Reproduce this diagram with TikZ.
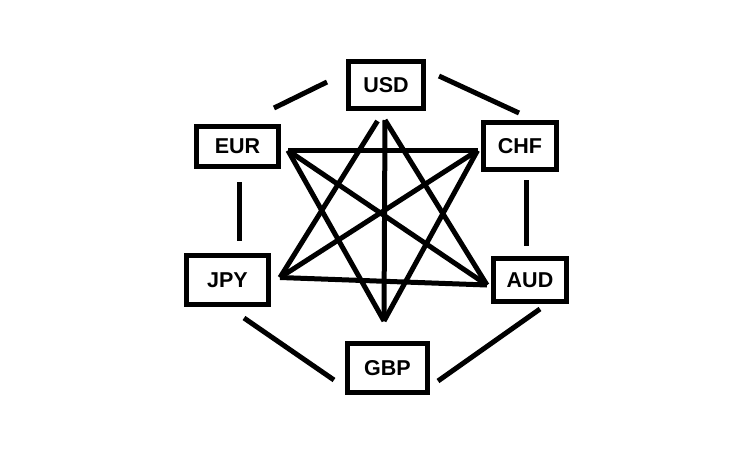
\documentclass[tikz,border=0pt]{standalone}
\usepackage{fontspec}
\setmainfont{Liberation Sans}
\begin{document}
\begin{tikzpicture}[x=1pt,y=-1pt,
  cur/.style={draw=black,line width=5pt,inner sep=0pt,font=\fontsize{21.5}{24}\selectfont\bfseries,text=black},
  edge/.style={draw=black,line width=5pt}]
\useasboundingbox[fill=white] (0,0) rectangle (753,472);
% boxes
\node[cur,minimum width=75pt,minimum height=47pt] (usd) at (386,85) {USD};
\node[cur,minimum width=82pt,minimum height=40pt] (eur) at (237.5,146.5) {EUR};
\node[cur,minimum width=73pt,minimum height=47pt] (chf) at (520,146) {CHF};
\node[cur,minimum width=82pt,minimum height=49pt] (jpy) at (227.5,280) {JPY};
\node[cur,minimum width=73pt,minimum height=43pt] (aud) at (530,280) {AUD};
\node[cur,minimum width=80pt,minimum height=49pt] (gbp) at (387.5,368) {GBP};
% hexagon connector ends
\coordinate (usd-w) at (327,82);
\coordinate (eur-n) at (274,108);
\coordinate (usd-e) at (439,76);
\coordinate (chf-n) at (519,113);
\coordinate (eur-s) at (239.5,182);
\coordinate (jpy-n) at (239.5,241);
\coordinate (chf-s) at (526.5,180);
\coordinate (aud-n) at (526.5,246);
\coordinate (jpy-s) at (244,318);
\coordinate (gbp-w) at (334,380);
\coordinate (aud-s) at (540,309);
\coordinate (gbp-e) at (438,381);
% star points
\coordinate (usd-a) at (377.5,121);
\coordinate (usd-b) at (385,120);
\coordinate (eur-p) at (288,150.5);
\coordinate (chf-p) at (477.5,150.5);
\coordinate (jpy-p) at (280,277.5);
\coordinate (aud-p) at (487,285);
\coordinate (gbp-p) at (384,321);
% hexagon
\draw[edge] (usd-w) -- (eur-n);
\draw[edge] (usd-e) -- (chf-n);
\draw[edge] (eur-s) -- (jpy-n);
\draw[edge] (chf-s) -- (aud-n);
\draw[edge] (jpy-s) -- (gbp-w);
\draw[edge] (aud-s) -- (gbp-e);
% star
\draw[edge,line join=miter] (usd-a) -- (jpy-p);
\draw[edge] (usd-b) -- (aud-p);
\draw[edge] (usd-b) -- (gbp-p);
\draw[edge] (eur-p) -- (chf-p);
\draw[edge] (eur-p) -- (aud-p);
\draw[edge] (eur-p) -- (gbp-p);
\draw[edge] (chf-p) -- (jpy-p);
\draw[edge] (chf-p) -- (gbp-p);
\draw[edge] (jpy-p) -- (aud-p);
\end{tikzpicture}
\end{document}
